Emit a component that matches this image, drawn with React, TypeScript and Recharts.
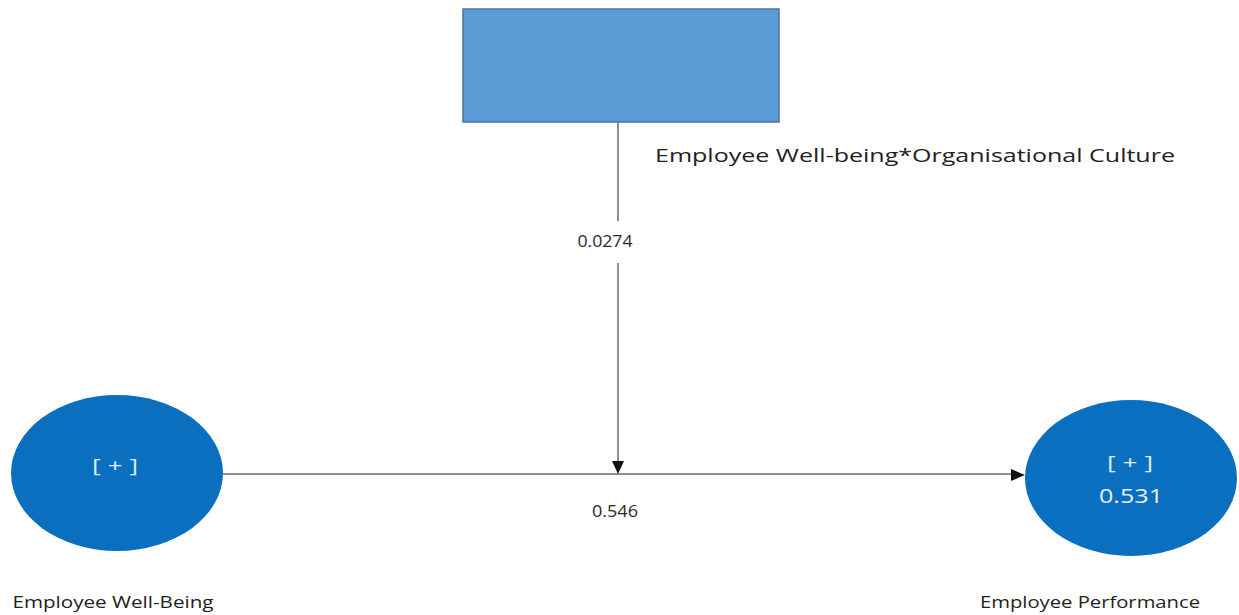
import React from 'react';
import { ScatterChart, Scatter, XAxis, YAxis, ReferenceLine } from 'recharts';

// constructs of the structural model (diagram coordinates, 1 unit = 1 px)
const constructNames = ['Employee Well-Being', 'Employee Performance'];
const constructX = [117, 1131];
const constructY = [473, 478];
const rSquared: (number | null)[] = [null, 0.531];

// moderating (interaction) term
const moderatorName = 'Employee Well-being*Organisational Culture';
const moderatorX = 621;
const moderatorY = 65;

// path coefficients
const pathLabels = ['0.0274', '0.546'];
const pathLabelX = [605, 615];
const pathLabelY = [243, 513];

// arrow tips
const arrowX = [618, 1025];
const arrowY = [474, 475];
const arrowDir = ['down', 'right'];

const constructData = constructNames.map((name, i) => ({
  name,
  x: constructX[i],
  y: constructY[i],
  r2: rSquared[i],
}));
const moderatorData = [{ name: moderatorName, x: moderatorX, y: moderatorY }];
const labelData = pathLabels.map((label, i) => ({ label, x: pathLabelX[i], y: pathLabelY[i] }));
const arrowData = arrowDir.map((dir, i) => ({ dir, x: arrowX[i], y: arrowY[i] }));

const FONT = '"Open Sans", "DejaVu Sans", sans-serif';
const NAME_ROW = 604;

const ConstructShape = (props: any) => {
  const { cx, cy, payload } = props;
  const isTarget = payload.r2 != null;
  return (
    <g>
      <ellipse cx={cx} cy={cy} rx={106} ry={78} fill="#0B6FC0" />
      <text
        x={isTarget ? cx - 1 : cx - 2}
        y={isTarget ? cy - 14 : cy - 6}
        textAnchor="middle"
        dominantBaseline="middle"
        fill="#DDEBF7"
        fontSize={18}
        fontFamily={FONT}
        textLength={46}
        lengthAdjust="spacingAndGlyphs"
      >
        [ + ]
      </text>
      {isTarget && (
        <text
          x={cx}
          y={cy + 20}
          textAnchor="middle"
          dominantBaseline="middle"
          fill="#E8F1FA"
          fontSize={20}
          fontFamily={FONT}
          textLength={64}
          lengthAdjust="spacingAndGlyphs"
        >
          {payload.r2.toFixed(3)}
        </text>
      )}
      <text
        x={isTarget ? cx - 41 : cx - 4}
        y={NAME_ROW}
        textAnchor="middle"
        dominantBaseline="middle"
        fill="#222"
        fontSize={16}
        fontFamily={FONT}
        textLength={isTarget ? 220 : 201}
        lengthAdjust="spacingAndGlyphs"
      >
        {payload.name}
      </text>
    </g>
  );
};

const ModeratorShape = (props: any) => {
  const { cx, cy, payload } = props;
  return (
    <g>
      <rect x={cx - 158} y={cy - 56} width={316} height={113} fill="#5B9BD5" stroke="#4D7397" strokeWidth={1.5} />
      <text
        x={cx + 294}
        y={cy + 92}
        textAnchor="middle"
        dominantBaseline="middle"
        fill="#222"
        fontSize={18}
        fontFamily={FONT}
        textLength={520}
        lengthAdjust="spacingAndGlyphs"
      >
        {payload.name}
      </text>
    </g>
  );
};

const LabelShape = (props: any) => {
  const { cx, cy, payload } = props;
  return (
    <text
      x={cx}
      y={cy}
      textAnchor="middle"
      dominantBaseline="middle"
      fill="#2a2a2a"
      fontSize={16}
      fontFamily={FONT}
      textLength={payload.label.length * 9.2}
      lengthAdjust="spacingAndGlyphs"
    >
      {payload.label}
    </text>
  );
};

const ArrowShape = (props: any) => {
  const { cx, cy, payload } = props;
  const pts =
    payload.dir === 'down'
      ? `${cx - 6},${cy - 13} ${cx + 6},${cy - 13} ${cx},${cy}`
      : `${cx - 14},${cy - 6} ${cx - 14},${cy + 6} ${cx},${cy}`;
  return <polygon points={pts} fill="#111" />;
};

export default function App() {
  return (
    <div style={{ position: 'absolute', left: 0, top: 0, background: '#fff' }}>
      <ScatterChart width={1239} height={615} margin={{ top: 0, right: 0, bottom: 0, left: 0 }}>
        <XAxis type="number" dataKey="x" domain={[0, 1239]} hide />
        <YAxis type="number" dataKey="y" domain={[0, 615]} reversed hide />
        <ReferenceLine segment={[{ x: 222, y: 474 }, { x: 1012, y: 474 }]} stroke="#222" strokeWidth={1.2} />
        <ReferenceLine segment={[{ x: 618, y: 122 }, { x: 618, y: 221 }]} stroke="#444" strokeWidth={1.2} />
        <ReferenceLine segment={[{ x: 618, y: 263 }, { x: 618, y: 462 }]} stroke="#444" strokeWidth={1.2} />
        <Scatter data={moderatorData} shape={ModeratorShape} isAnimationActive={false} />
        <Scatter data={constructData} shape={ConstructShape} isAnimationActive={false} />
        <Scatter data={labelData} shape={LabelShape} isAnimationActive={false} />
        <Scatter data={arrowData} shape={ArrowShape} isAnimationActive={false} />
      </ScatterChart>
    </div>
  );
}
